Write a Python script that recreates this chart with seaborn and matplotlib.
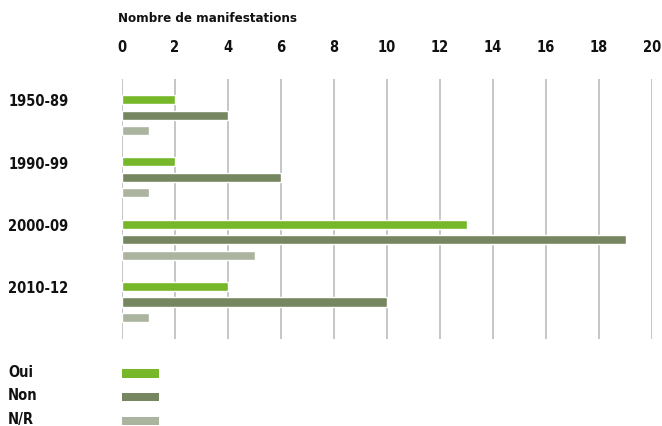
import pandas as pd
import seaborn as sns
import matplotlib.pyplot as plt
from matplotlib.patches import Patch

# Data
periods = ['1950-89', '1990-99', '2000-09', '2010-12']
answers = ['Oui', 'Non', 'N/R']
oui = [2, 2, 13, 4]
non = [4, 6, 19, 10]
nr = [1, 1, 5, 1]
colors = ['#76b82a', '#768660', '#aab49e']
x_ticks = list(range(0, 21, 2))

df = pd.DataFrame({'period': periods * 3,
                   'answer': ['Oui'] * 4 + ['Non'] * 4 + ['N/R'] * 4,
                   'count': oui + non + nr})

sns.set_style('white')
plt.rcParams['font.family'] = ['DejaVu Sans']
plt.rcParams['font.stretch'] = 'condensed'
plt.rcParams['font.weight'] = 'bold'
plt.rcParams['text.color'] = '#111111'
plt.rcParams['xtick.color'] = '#111111'
plt.rcParams['ytick.color'] = '#111111'

fs = 10.5

fig = plt.figure(figsize=(6.62, 4.27), dpi=100)
ax = fig.add_axes([122 / 662, 1 - 340 / 427, 530 / 662, 260 / 427])

sns.barplot(data=df, y='period', x='count', hue='answer', order=periods,
            hue_order=answers, palette=colors, saturation=1, orient='h',
            width=0.75, gap=0.42, legend=False, ax=ax, zorder=3)

ax.set_xlim(0, 20)
ax.set_ylim(3.594, -0.578)
ax.set_xticks(x_ticks)
ax.xaxis.tick_top()
ax.tick_params(axis='x', length=0, pad=18, labelsize=fs)
ax.grid(axis='x', color='#c6c6c6', linewidth=1.4, zorder=0)
ax.set_xlabel('')
ax.set_ylabel('')
for s in ax.spines.values():
    s.set_visible(False)

ax.set_yticks([i - 0.25 for i in range(len(periods))])
ax.set_yticklabels(periods)
ax.tick_params(axis='y', length=0, pad=82, labelsize=fs)
for t in ax.get_yticklabels():
    t.set_horizontalalignment('left')

fig.text(118 / 662, 1 - 18 / 427, 'Nombre de manifestations', fontsize=9.5,
         fontweight='bold', va='center', ha='left')

# legend: swatches with labels on the far left
handles = [Patch(facecolor=c, edgecolor='none') for c in colors]
leg = fig.legend(handles, ['', '', ''], loc='upper left',
                 bbox_to_anchor=(122 / 662, 1 - 369 / 427), frameon=False,
                 handlelength=2.8, handleheight=0.6, labelspacing=0.82,
                 borderpad=0, borderaxespad=0, handletextpad=0, fontsize=9.5)
for lab, y in zip(answers, [373, 396, 420]):
    fig.text(8 / 662, 1 - y / 427, lab, fontsize=fs, fontweight='bold',
             va='center', ha='left')

fig.savefig('out.png', dpi=100)
